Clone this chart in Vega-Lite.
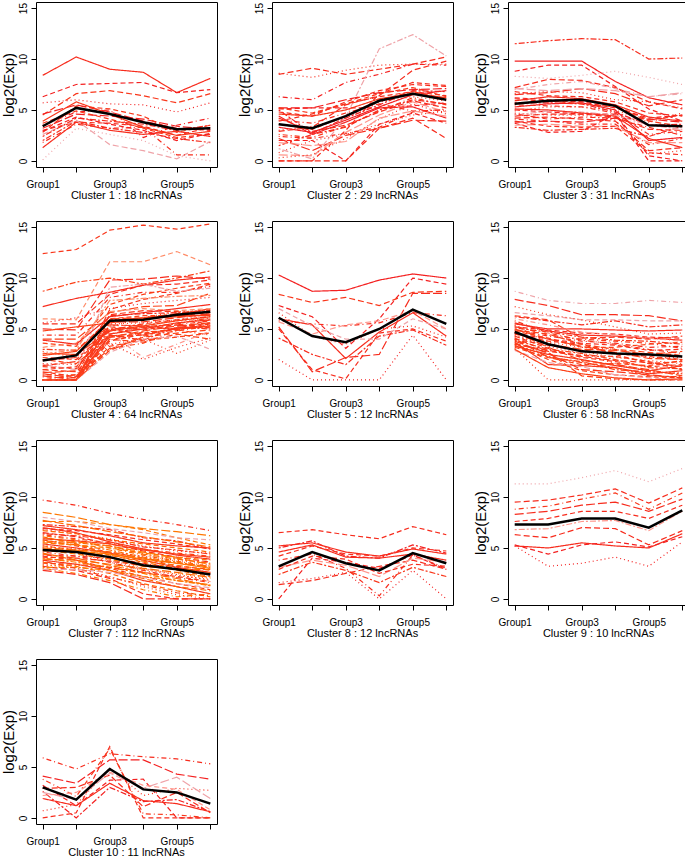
{
"$schema": "https://vega.github.io/schema/vega-lite/v6.json",
"padding": {"left": 0, "top": 1, "right": 0, "bottom": 0},
"background": "white",
"datasets": {
"clusters": [
{"c":1,"title":"Cluster 1 : 18 lncRNAs"},{"c":2,"title":"Cluster 2 : 29 lncRNAs"},{"c":3,"title":"Cluster 3 : 31 lncRNAs"},{"c":4,"title":"Cluster 4 : 64 lncRNAs"},{"c":5,"title":"Cluster 5 : 12 lncRNAs"},{"c":6,"title":"Cluster 6 : 58 lncRNAs"},{"c":7,"title":"Cluster 7 : 112 lncRNAs"},{"c":8,"title":"Cluster 8 : 12 lncRNAs"},{"c":9,"title":"Cluster 9 : 10 lncRNAs"},{"c":10,"title":"Cluster 10 : 11 lncRNAs"}
],
"profiles": [
{"c":1,"id":101,"m":0.85,"G1":8.4,"G2":10.2,"G3":9.0,"G4":8.7,"G5":6.7,"G6":8.1},
{"c":1,"id":102,"m":0.9,"G1":6.3,"G2":7.5,"G3":7.6,"G4":7.7,"G5":6.7,"G6":7.0},
{"c":1,"id":103,"m":0.9,"G1":5.7,"G2":6.0,"G3":5.6,"G4":5.5,"G5":4.8,"G6":5.7},
{"c":1,"id":104,"m":0.8,"G1":4.5,"G2":6.6,"G3":6.9,"G4":6.4,"G5":5.7,"G6":6.6},
{"c":1,"id":105,"m":0.95,"G1":3.5,"G2":4.8,"G3":5.0,"G4":2.3,"G5":3.5,"G6":4.2},
{"c":1,"id":106,"m":0.9,"G1":3.2,"G2":4.6,"G3":4.4,"G4":4.1,"G5":3.4,"G6":3.1},
{"c":1,"id":107,"m":0.85,"G1":3.0,"G2":3.8,"G3":3.7,"G4":3.4,"G5":2.5,"G6":3.3},
{"c":1,"id":108,"m":0.85,"G1":2.0,"G2":3.9,"G3":3.2,"G4":2.8,"G5":2.2,"G6":1.8},
{"c":1,"id":109,"m":0.85,"G1":1.3,"G2":3.8,"G3":3.0,"G4":2.6,"G5":2.9,"G6":2.4},
{"c":1,"id":110,"m":0.8,"G1":2.8,"G2":5.4,"G3":5.1,"G4":4.4,"G5":2.8,"G6":3.5},
{"c":1,"id":111,"m":0.3,"G1":0.1,"G2":3.2,"G3":2.6,"G4":2.0,"G5":0.5,"G6":0.0},
{"c":1,"id":112,"m":0.3,"G1":2.6,"G2":4.0,"G3":1.6,"G4":1.0,"G5":0.2,"G6":1.9},
{"c":1,"id":113,"m":0.85,"G1":1.8,"G2":3.6,"G3":3.2,"G4":3.3,"G5":0.6,"G6":0.6},
{"c":1,"id":114,"m":0.9,"G1":4.6,"G2":5.5,"G3":4.8,"G4":3.9,"G5":3.2,"G6":3.0},
{"c":1,"id":115,"m":0.8,"G1":3.7,"G2":4.9,"G3":4.1,"G4":3.2,"G5":2.3,"G6":2.6},
{"c":1,"id":116,"m":0.85,"G1":2.4,"G2":4.2,"G3":3.9,"G4":3.6,"G5":3.0,"G6":3.5},
{"c":1,"id":117,"m":0.8,"G1":3.9,"G2":5.8,"G3":4.6,"G4":3.3,"G5":2.5,"G6":2.9},
{"c":1,"id":118,"m":0.9,"G1":2.9,"G2":4.3,"G3":3.6,"G4":3.0,"G5":2.0,"G6":2.7},
{"c":2,"id":201,"m":0.85,"G1":8.6,"G2":8.2,"G3":8.9,"G4":9.4,"G5":9.5,"G6":9.5},
{"c":2,"id":202,"m":0.85,"G1":8.5,"G2":9.1,"G3":8.5,"G4":9.0,"G5":9.5,"G6":10.2},
{"c":2,"id":203,"m":0.9,"G1":6.3,"G2":6.0,"G3":7.7,"G4":8.5,"G5":9.5,"G6":9.4},
{"c":2,"id":204,"m":0.9,"G1":5.2,"G2":5.2,"G3":6.0,"G4":6.7,"G5":7.0,"G6":7.1},
{"c":2,"id":205,"m":0.9,"G1":5.1,"G2":5.2,"G3":5.2,"G4":5.2,"G5":5.4,"G6":5.7},
{"c":2,"id":206,"m":0.9,"G1":5.0,"G2":2.7,"G3":4.2,"G4":5.5,"G5":6.9,"G6":6.8},
{"c":2,"id":207,"m":0.9,"G1":4.4,"G2":2.6,"G3":3.8,"G4":5.2,"G5":5.3,"G6":4.2},
{"c":2,"id":208,"m":0.9,"G1":2.0,"G2":2.0,"G3":0.0,"G4":3.6,"G5":4.7,"G6":3.7},
{"c":2,"id":209,"m":0.85,"G1":0.8,"G2":2.0,"G3":2.6,"G4":3.6,"G5":4.5,"G6":4.9},
{"c":2,"id":210,"m":0.85,"G1":0.0,"G2":0.0,"G3":0.0,"G4":3.2,"G5":4.2,"G6":2.2},
{"c":2,"id":211,"m":0.85,"G1":2.4,"G2":2.2,"G3":2.7,"G4":3.3,"G5":4.8,"G6":5.1},
{"c":2,"id":212,"m":0.85,"G1":2.2,"G2":1.0,"G3":2.5,"G4":3.2,"G5":4.0,"G6":3.9},
{"c":2,"id":213,"m":0.85,"G1":0.0,"G2":0.0,"G3":3.0,"G4":6.6,"G5":7.7,"G6":7.4},
{"c":2,"id":214,"m":0.3,"G1":1.2,"G2":0.2,"G3":4.3,"G4":11.0,"G5":12.4,"G6":10.3},
{"c":2,"id":215,"m":0.8,"G1":4.6,"G2":4.4,"G3":5.0,"G4":6.1,"G5":6.6,"G6":6.2},
{"c":2,"id":216,"m":0.85,"G1":3.9,"G2":4.6,"G3":5.6,"G4":6.3,"G5":6.8,"G6":6.4},
{"c":2,"id":217,"m":0.85,"G1":3.0,"G2":3.4,"G3":4.2,"G4":5.8,"G5":6.3,"G6":5.9},
{"c":2,"id":218,"m":0.85,"G1":4.2,"G2":2.9,"G3":3.5,"G4":4.8,"G5":5.9,"G6":5.2},
{"c":2,"id":219,"m":0.8,"G1":2.6,"G2":2.3,"G3":3.4,"G4":4.9,"G5":6.2,"G6":5.5},
{"c":2,"id":220,"m":0.35,"G1":0.6,"G2":0.5,"G3":2.8,"G4":4.5,"G5":5.8,"G6":4.8},
{"c":2,"id":221,"m":0.8,"G1":5.2,"G2":4.7,"G3":5.6,"G4":6.6,"G5":7.2,"G6":6.3},
{"c":2,"id":222,"m":0.85,"G1":1.5,"G2":2.6,"G3":3.3,"G4":5.0,"G5":6.0,"G6":5.6},
{"c":2,"id":223,"m":0.9,"G1":3.3,"G2":2.8,"G3":4.0,"G4":5.3,"G5":6.5,"G6":6.9},
{"c":2,"id":224,"m":0.85,"G1":4.8,"G2":4.4,"G3":5.8,"G4":6.9,"G5":7.5,"G6":7.3},
{"c":2,"id":225,"m":0.85,"G1":0.3,"G2":0.6,"G3":2.2,"G4":4.1,"G5":5.6,"G6":4.6},
{"c":2,"id":226,"m":0.85,"G1":2.9,"G2":3.3,"G3":5.5,"G4":6.4,"G5":8.9,"G6":9.8},
{"c":2,"id":227,"m":0.85,"G1":4.0,"G2":3.7,"G3":4.7,"G4":5.6,"G5":4.9,"G6":5.0},
{"c":2,"id":228,"m":0.35,"G1":1.8,"G2":1.5,"G3":1.9,"G4":4.2,"G5":4.9,"G6":4.4},
{"c":2,"id":229,"m":0.8,"G1":3.6,"G2":3.1,"G3":4.4,"G4":6.0,"G5":6.8,"G6":6.1},
{"c":3,"id":301,"m":0.85,"G1":11.5,"G2":11.8,"G3":12.0,"G4":11.9,"G5":10.0,"G6":10.1},
{"c":3,"id":302,"m":0.9,"G1":9.8,"G2":9.8,"G3":9.8,"G4":7.8,"G5":6.2,"G6":5.5},
{"c":3,"id":303,"m":0.9,"G1":8.8,"G2":9.4,"G3":9.4,"G4":7.3,"G5":5.1,"G6":3.9},
{"c":3,"id":304,"m":0.3,"G1":8.3,"G2":8.1,"G3":8.4,"G4":8.8,"G5":8.2,"G6":7.5},
{"c":3,"id":305,"m":0.85,"G1":7.2,"G2":8.0,"G3":7.9,"G4":7.2,"G5":5.8,"G6":5.1},
{"c":3,"id":306,"m":0.3,"G1":7.0,"G2":7.5,"G3":7.8,"G4":7.1,"G5":6.3,"G6":6.6},
{"c":3,"id":307,"m":0.85,"G1":6.5,"G2":6.7,"G3":7.1,"G4":6.6,"G5":5.4,"G6":6.0},
{"c":3,"id":308,"m":0.9,"G1":6.2,"G2":6.0,"G3":5.8,"G4":5.2,"G5":4.2,"G6":4.5},
{"c":3,"id":309,"m":0.9,"G1":5.7,"G2":5.7,"G3":5.6,"G4":4.8,"G5":3.5,"G6":3.6},
{"c":3,"id":310,"m":0.9,"G1":5.3,"G2":5.6,"G3":5.7,"G4":5.0,"G5":2.0,"G6":2.3},
{"c":3,"id":311,"m":0.9,"G1":5.0,"G2":4.8,"G3":4.6,"G4":4.6,"G5":0.0,"G6":0.0},
{"c":3,"id":312,"m":0.85,"G1":4.7,"G2":4.5,"G3":4.5,"G4":4.0,"G5":0.7,"G6":1.0},
{"c":3,"id":313,"m":0.85,"G1":4.4,"G2":4.6,"G3":4.6,"G4":4.3,"G5":3.1,"G6":3.0},
{"c":3,"id":314,"m":0.85,"G1":4.1,"G2":3.9,"G3":3.6,"G4":3.6,"G5":1.6,"G6":2.2},
{"c":3,"id":315,"m":0.9,"G1":3.8,"G2":3.9,"G3":3.8,"G4":4.2,"G5":4.1,"G6":3.8},
{"c":3,"id":316,"m":0.9,"G1":3.7,"G2":2.8,"G3":2.9,"G4":4.6,"G5":0.5,"G6":0.0},
{"c":3,"id":317,"m":0.85,"G1":3.3,"G2":3.0,"G3":3.1,"G4":3.2,"G5":2.4,"G6":3.4},
{"c":3,"id":318,"m":0.85,"G1":5.9,"G2":6.3,"G3":6.1,"G4":5.5,"G5":4.3,"G6":3.9},
{"c":3,"id":319,"m":0.85,"G1":6.8,"G2":6.4,"G3":6.3,"G4":5.8,"G5":4.7,"G6":4.4},
{"c":3,"id":320,"m":0.8,"G1":4.9,"G2":5.3,"G3":5.3,"G4":5.0,"G5":3.8,"G6":4.7},
{"c":3,"id":321,"m":0.85,"G1":4.2,"G2":4.3,"G3":4.1,"G4":3.9,"G5":1.0,"G6":1.3},
{"c":3,"id":322,"m":0.85,"G1":5.5,"G2":5.4,"G3":5.3,"G4":4.7,"G5":2.6,"G6":2.9},
{"c":3,"id":323,"m":0.35,"G1":3.5,"G2":3.6,"G3":3.4,"G4":3.4,"G5":1.8,"G6":1.8},
{"c":3,"id":324,"m":0.85,"G1":6.1,"G2":5.8,"G3":5.9,"G4":5.4,"G5":4.0,"G6":4.5},
{"c":3,"id":325,"m":0.3,"G1":4.5,"G2":4.9,"G3":4.8,"G4":4.5,"G5":3.5,"G6":3.1},
{"c":3,"id":326,"m":0.85,"G1":5.1,"G2":5.0,"G3":4.7,"G4":4.4,"G5":2.2,"G6":1.3},
{"c":3,"id":327,"m":0.85,"G1":3.9,"G2":3.4,"G3":3.3,"G4":3.4,"G5":0.8,"G6":0.6},
{"c":3,"id":328,"m":0.85,"G1":6.6,"G2":6.8,"G3":6.7,"G4":6.0,"G5":5.8,"G6":5.2},
{"c":3,"id":329,"m":0.8,"G1":5.6,"G2":5.9,"G3":5.6,"G4":5.3,"G5":3.9,"G6":3.4},
{"c":3,"id":330,"m":0.85,"G1":4.6,"G2":4.1,"G3":4.3,"G4":4.2,"G5":3.3,"G6":2.5},
{"c":3,"id":331,"m":0.3,"G1":7.1,"G2":6.9,"G3":7.1,"G4":6.9,"G5":6.3,"G6":6.7},
{"c":4,"id":401,"m":0.8,"G1":12.4,"G2":12.8,"G3":14.7,"G4":15.2,"G5":14.8,"G6":15.3},
{"c":4,"id":402,"m":0.75,"G1":8.7,"G2":9.6,"G3":10.0,"G4":9.4,"G5":10.0,"G6":10.7},
{"c":4,"id":403,"m":0.85,"G1":7.2,"G2":8.0,"G3":8.6,"G4":9.3,"G5":9.8,"G6":10.1},
{"c":4,"id":404,"m":0.4,"G1":6.0,"G2":5.9,"G3":11.6,"G4":11.6,"G5":12.6,"G6":11.3},
{"c":4,"id":405,"m":0.9,"G1":5.6,"G2":6.1,"G3":7.0,"G4":7.5,"G5":7.8,"G6":8.1},
{"c":4,"id":406,"m":0.85,"G1":5.5,"G2":5.5,"G3":8.4,"G4":9.3,"G5":9.4,"G6":9.8},
{"c":4,"id":407,"m":0.85,"G1":4.4,"G2":4.4,"G3":8.1,"G4":8.6,"G5":8.6,"G6":9.2},
{"c":4,"id":408,"m":0.75,"G1":4.0,"G2":4.0,"G3":6.6,"G4":7.2,"G5":7.3,"G6":8.5},
{"c":4,"id":409,"m":0.75,"G1":3.6,"G2":3.3,"G3":7.4,"G4":8.4,"G5":9.0,"G6":9.5},
{"c":4,"id":410,"m":0.8,"G1":3.0,"G2":2.9,"G3":5.9,"G4":6.0,"G5":6.4,"G6":7.0},
{"c":4,"id":411,"m":0.75,"G1":2.6,"G2":2.5,"G3":4.8,"G4":5.3,"G5":5.8,"G6":6.2},
{"c":4,"id":412,"m":0.8,"G1":2.2,"G2":2.0,"G3":5.0,"G4":4.4,"G5":5.0,"G6":5.9},
{"c":4,"id":413,"m":0.85,"G1":1.6,"G2":1.5,"G3":3.6,"G4":2.0,"G5":3.2,"G6":4.1},
{"c":4,"id":414,"m":0.8,"G1":1.0,"G2":0.8,"G3":4.2,"G4":4.4,"G5":5.1,"G6":5.6},
{"c":4,"id":415,"m":0.75,"G1":0.5,"G2":0.5,"G3":3.0,"G4":4.3,"G5":4.8,"G6":5.3},
{"c":4,"id":416,"m":0.75,"G1":0.0,"G2":0.0,"G3":4.2,"G4":4.8,"G5":5.3,"G6":5.6},
{"c":4,"id":417,"m":0.8,"G1":0.0,"G2":0.0,"G3":3.8,"G4":4.5,"G5":5.1,"G6":5.3},
{"c":4,"id":418,"m":0.75,"G1":0.0,"G2":0.0,"G3":5.0,"G4":5.2,"G5":5.5,"G6":6.1},
{"c":4,"id":419,"m":0.8,"G1":0.0,"G2":0.0,"G3":4.5,"G4":5.0,"G5":5.6,"G6":5.9},
{"c":4,"id":420,"m":0.75,"G1":0.0,"G2":0.0,"G3":3.3,"G4":3.9,"G5":4.2,"G6":4.6},
{"c":4,"id":421,"m":0.8,"G1":0.0,"G2":0.0,"G3":5.5,"G4":5.6,"G5":5.9,"G6":6.5},
{"c":4,"id":422,"m":0.75,"G1":0.0,"G2":0.0,"G3":2.9,"G4":4.2,"G5":4.6,"G6":4.9},
{"c":4,"id":423,"m":0.8,"G1":0.3,"G2":0.2,"G3":4.8,"G4":5.1,"G5":5.4,"G6":5.8},
{"c":4,"id":424,"m":0.75,"G1":0.7,"G2":0.9,"G3":6.0,"G4":6.1,"G5":6.5,"G6":6.9},
{"c":4,"id":425,"m":0.8,"G1":1.3,"G2":1.1,"G3":5.2,"G4":4.9,"G5":5.4,"G6":5.1},
{"c":4,"id":426,"m":0.85,"G1":1.9,"G2":2.2,"G3":6.3,"G4":6.5,"G5":6.6,"G6":6.8},
{"c":4,"id":427,"m":0.75,"G1":2.4,"G2":2.8,"G3":5.8,"G4":6.1,"G5":6.3,"G6":6.3},
{"c":4,"id":428,"m":0.4,"G1":3.2,"G2":3.6,"G3":6.7,"G4":7.0,"G5":6.8,"G6":7.0},
{"c":4,"id":429,"m":0.8,"G1":0.0,"G2":0.0,"G3":3.5,"G4":4.0,"G5":2.6,"G6":3.9},
{"c":4,"id":430,"m":0.75,"G1":0.0,"G2":0.0,"G3":4.0,"G4":3.7,"G5":4.5,"G6":4.0},
{"c":4,"id":431,"m":0.35,"G1":0.0,"G2":0.0,"G3":4.6,"G4":2.2,"G5":3.5,"G6":4.8},
{"c":4,"id":432,"m":0.85,"G1":5.0,"G2":4.9,"G3":9.8,"G4":9.9,"G5":10.2,"G6":9.9},
{"c":4,"id":433,"m":0.8,"G1":0.8,"G2":0.3,"G3":6.9,"G4":7.9,"G5":8.5,"G6":9.4},
{"c":4,"id":434,"m":0.3,"G1":1.5,"G2":1.0,"G3":9.1,"G4":9.4,"G5":8.7,"G6":9.0},
{"c":4,"id":435,"m":0.75,"G1":4.8,"G2":5.2,"G3":5.6,"G4":6.0,"G5":6.2,"G6":6.4},
{"c":4,"id":436,"m":0.8,"G1":1.0,"G2":1.3,"G3":4.5,"G4":5.2,"G5":5.0,"G6":5.2},
{"c":4,"id":437,"m":0.75,"G1":2.8,"G2":2.2,"G3":5.3,"G4":5.4,"G5":5.8,"G6":6.0},
{"c":4,"id":438,"m":0.8,"G1":0.0,"G2":0.0,"G3":6.4,"G4":6.8,"G5":6.7,"G6":6.4},
{"c":4,"id":439,"m":0.75,"G1":0.0,"G2":0.5,"G3":3.9,"G4":4.7,"G5":4.9,"G6":4.4},
{"c":4,"id":440,"m":0.8,"G1":0.4,"G2":0.0,"G3":5.7,"G4":5.7,"G5":6.1,"G6":6.5},
{"c":4,"id":441,"m":0.75,"G1":2.0,"G2":1.6,"G3":4.3,"G4":4.6,"G5":5.0,"G6":5.3},
{"c":4,"id":442,"m":0.8,"G1":0.0,"G2":0.0,"G3":4.4,"G4":3.9,"G5":5.2,"G6":5.0},
{"c":4,"id":443,"m":0.85,"G1":3.9,"G2":3.5,"G3":6.2,"G4":6.6,"G5":7.0,"G6":7.4},
{"c":4,"id":444,"m":0.3,"G1":0.0,"G2":0.0,"G3":2.7,"G4":4.0,"G5":4.3,"G6":3.0},
{"c":4,"id":445,"m":0.75,"G1":0.0,"G2":0.0,"G3":5.2,"G4":6.1,"G5":6.7,"G6":6.8},
{"c":4,"id":446,"m":0.8,"G1":1.4,"G2":1.8,"G3":4.9,"G4":5.5,"G5":5.9,"G6":6.2},
{"c":4,"id":447,"m":0.75,"G1":0.0,"G2":0.0,"G3":3.1,"G4":3.6,"G5":4.9,"G6":5.4},
{"c":4,"id":448,"m":0.8,"G1":0.6,"G2":0.2,"G3":5.4,"G4":5.3,"G5":4.9,"G6":5.5},
{"c":4,"id":449,"m":0.75,"G1":0.0,"G2":0.0,"G3":6.0,"G4":6.3,"G5":6.3,"G6":6.6},
{"c":4,"id":450,"m":0.4,"G1":2.5,"G2":3.0,"G3":7.8,"G4":8.0,"G5":8.2,"G6":8.3},
{"c":5,"id":501,"m":0.9,"G1":10.3,"G2":8.7,"G3":8.8,"G4":9.8,"G5":10.4,"G6":10.0},
{"c":5,"id":502,"m":0.9,"G1":7.3,"G2":6.2,"G3":3.1,"G4":6.0,"G5":10.0,"G6":9.4},
{"c":5,"id":503,"m":0.9,"G1":2.0,"G2":0.0,"G3":0.0,"G4":0.0,"G5":4.4,"G6":0.0},
{"c":5,"id":504,"m":0.8,"G1":8.4,"G2":7.6,"G3":8.1,"G4":7.3,"G5":8.6,"G6":8.7},
{"c":5,"id":505,"m":0.85,"G1":5.8,"G2":5.5,"G3":5.3,"G4":5.6,"G5":6.6,"G6":6.3},
{"c":5,"id":506,"m":0.85,"G1":5.2,"G2":0.8,"G3":2.2,"G4":2.5,"G5":8.5,"G6":8.5},
{"c":5,"id":507,"m":0.85,"G1":5.0,"G2":1.0,"G3":0.1,"G4":4.6,"G5":5.0,"G6":3.8},
{"c":5,"id":508,"m":0.85,"G1":4.1,"G2":2.5,"G3":1.5,"G4":4.3,"G5":4.9,"G6":3.4},
{"c":5,"id":509,"m":0.85,"G1":6.0,"G2":5.4,"G3":2.1,"G4":4.7,"G5":6.6,"G6":4.3},
{"c":5,"id":510,"m":0.3,"G1":7.0,"G2":5.3,"G3":4.0,"G4":4.0,"G5":6.0,"G6":5.0},
{"c":5,"id":511,"m":0.85,"G1":6.6,"G2":4.3,"G3":3.5,"G4":5.0,"G5":5.3,"G6":4.2},
{"c":5,"id":512,"m":0.35,"G1":5.7,"G2":4.5,"G3":5.4,"G4":5.8,"G5":6.8,"G6":5.0},
{"c":6,"id":601,"m":0.3,"G1":8.7,"G2":7.8,"G3":7.5,"G4":7.5,"G5":7.8,"G6":7.6},
{"c":6,"id":602,"m":0.85,"G1":7.9,"G2":7.3,"G3":6.4,"G4":6.4,"G5":6.3,"G6":5.8},
{"c":6,"id":603,"m":0.3,"G1":6.6,"G2":6.3,"G3":5.9,"G4":5.9,"G5":5.8,"G6":5.8},
{"c":6,"id":604,"m":0.85,"G1":6.2,"G2":5.8,"G3":5.4,"G4":5.8,"G5":5.2,"G6":5.4},
{"c":6,"id":605,"m":0.85,"G1":5.5,"G2":5.0,"G3":5.0,"G4":4.9,"G5":4.8,"G6":4.9},
{"c":6,"id":606,"m":0.85,"G1":5.2,"G2":4.9,"G3":4.6,"G4":4.5,"G5":4.2,"G6":4.1},
{"c":6,"id":607,"m":0.8,"G1":7.2,"G2":6.4,"G3":5.9,"G4":5.2,"G5":4.5,"G6":4.6},
{"c":6,"id":608,"m":0.8,"G1":6.3,"G2":5.9,"G3":4.1,"G4":4.2,"G5":4.0,"G6":4.3},
{"c":6,"id":609,"m":0.85,"G1":4.9,"G2":4.3,"G3":3.8,"G4":3.6,"G5":3.2,"G6":3.3},
{"c":6,"id":610,"m":0.75,"G1":4.6,"G2":3.5,"G3":3.0,"G4":2.9,"G5":2.5,"G6":2.8},
{"c":6,"id":611,"m":0.8,"G1":4.3,"G2":3.1,"G3":2.2,"G4":1.8,"G5":1.3,"G6":1.5},
{"c":6,"id":612,"m":0.75,"G1":4.0,"G2":2.2,"G3":1.8,"G4":1.0,"G5":0.8,"G6":0.6},
{"c":6,"id":613,"m":0.8,"G1":3.7,"G2":1.5,"G3":1.4,"G4":1.2,"G5":0.6,"G6":0.9},
{"c":6,"id":614,"m":0.75,"G1":3.4,"G2":2.0,"G3":0.9,"G4":0.5,"G5":0.3,"G6":0.2},
{"c":6,"id":615,"m":0.8,"G1":3.1,"G2":0.0,"G3":0.0,"G4":0.0,"G5":0.0,"G6":0.0},
{"c":6,"id":616,"m":0.75,"G1":3.6,"G2":2.7,"G3":0.4,"G4":0.1,"G5":0.0,"G6":0.0},
{"c":6,"id":617,"m":0.8,"G1":5.8,"G2":4.6,"G3":3.9,"G4":3.5,"G5":3.0,"G6":2.6},
{"c":6,"id":618,"m":0.75,"G1":5.0,"G2":4.0,"G3":3.3,"G4":2.7,"G5":2.1,"G6":2.0},
{"c":6,"id":619,"m":0.8,"G1":4.5,"G2":3.8,"G3":3.5,"G4":2.5,"G5":1.6,"G6":1.8},
{"c":6,"id":620,"m":0.75,"G1":3.9,"G2":3.0,"G3":2.6,"G4":2.0,"G5":1.2,"G6":1.1},
{"c":6,"id":621,"m":0.8,"G1":3.3,"G2":2.5,"G3":2.0,"G4":1.4,"G5":0.9,"G6":1.4},
{"c":6,"id":622,"m":0.75,"G1":4.8,"G2":4.1,"G3":3.2,"G4":3.2,"G5":3.5,"G6":3.7},
{"c":6,"id":623,"m":0.8,"G1":4.2,"G2":3.7,"G3":3.2,"G4":3.0,"G5":2.2,"G6":2.2},
{"c":6,"id":624,"m":0.3,"G1":2.9,"G2":1.7,"G3":1.3,"G4":0.5,"G5":0.2,"G6":0.0},
{"c":6,"id":625,"m":0.8,"G1":5.3,"G2":4.4,"G3":4.0,"G4":3.8,"G5":3.6,"G6":3.1},
{"c":6,"id":626,"m":0.75,"G1":4.7,"G2":3.2,"G3":1.9,"G4":1.5,"G5":1.0,"G6":0.4},
{"c":6,"id":627,"m":0.8,"G1":4.1,"G2":2.8,"G3":2.4,"G4":2.3,"G5":1.8,"G6":1.0},
{"c":6,"id":628,"m":0.75,"G1":3.5,"G2":2.3,"G3":1.7,"G4":1.2,"G5":0.4,"G6":0.3},
{"c":6,"id":629,"m":0.85,"G1":5.6,"G2":4.8,"G3":4.4,"G4":4.3,"G5":4.1,"G6":3.9},
{"c":6,"id":630,"m":0.75,"G1":3.2,"G2":2.2,"G3":1.5,"G4":1.6,"G5":1.4,"G6":1.9},
{"c":6,"id":631,"m":0.8,"G1":4.4,"G2":3.3,"G3":2.6,"G4":1.6,"G5":0.8,"G6":0.7},
{"c":6,"id":632,"m":0.75,"G1":4.9,"G2":4.5,"G3":3.5,"G4":3.0,"G5":2.7,"G6":2.4},
{"c":6,"id":633,"m":0.35,"G1":6.0,"G2":5.4,"G3":4.7,"G4":4.4,"G5":4.1,"G6":3.8},
{"c":6,"id":634,"m":0.8,"G1":3.8,"G2":2.6,"G3":1.0,"G4":0.8,"G5":0.5,"G6":0.2},
{"c":6,"id":635,"m":0.85,"G1":4.6,"G2":4.0,"G3":3.6,"G4":3.4,"G5":2.9,"G6":3.0},
{"c":6,"id":636,"m":0.8,"G1":5.1,"G2":4.7,"G3":4.2,"G4":3.9,"G5":3.8,"G6":3.5},
{"c":6,"id":637,"m":0.75,"G1":3.0,"G2":1.2,"G3":0.6,"G4":0.2,"G5":0.0,"G6":0.1},
{"c":6,"id":638,"m":0.8,"G1":4.0,"G2":3.4,"G3":2.9,"G4":2.6,"G5":2.3,"G6":2.0},
{"c":6,"id":639,"m":0.75,"G1":5.4,"G2":3.6,"G3":2.8,"G4":2.2,"G5":1.9,"G6":1.6},
{"c":6,"id":640,"m":0.8,"G1":3.5,"G2":2.9,"G3":2.3,"G4":1.9,"G5":1.7,"G6":1.3},
{"c":7,"id":701,"m":0.85,"G1":9.7,"G2":9.2,"G3":8.4,"G4":7.8,"G5":7.3,"G6":6.7},
{"c":7,"id":702,"m":0.55,"G1":8.5,"G2":8.0,"G3":7.3,"G4":6.9,"G5":6.6,"G6":6.2},
{"c":7,"id":703,"m":0.55,"G1":7.6,"G2":7.6,"G3":7.3,"G4":6.8,"G5":6.0,"G6":5.3},
{"c":7,"id":704,"m":0.85,"G1":7.3,"G2":7.1,"G3":6.8,"G4":6.0,"G5":5.7,"G6":4.9},
{"c":7,"id":705,"m":0.8,"G1":7.2,"G2":6.8,"G3":6.2,"G4":5.5,"G5":5.2,"G6":5.0},
{"c":7,"id":706,"m":0.3,"G1":8.0,"G2":7.6,"G3":6.9,"G4":6.5,"G5":6.0,"G6":5.8},
{"c":7,"id":707,"m":0.75,"G1":6.8,"G2":6.4,"G3":5.9,"G4":5.2,"G5":4.7,"G6":4.5},
{"c":7,"id":708,"m":0.85,"G1":6.5,"G2":6.1,"G3":5.4,"G4":4.7,"G5":4.1,"G6":3.6},
{"c":7,"id":709,"m":0.6,"G1":6.2,"G2":5.8,"G3":5.0,"G4":4.3,"G5":3.7,"G6":3.2},
{"c":7,"id":710,"m":0.55,"G1":6.0,"G2":5.6,"G3":5.2,"G4":4.6,"G5":4.0,"G6":3.4},
{"c":7,"id":711,"m":0.75,"G1":5.8,"G2":5.2,"G3":4.6,"G4":4.0,"G5":3.2,"G6":2.9},
{"c":7,"id":712,"m":0.6,"G1":5.6,"G2":5.3,"G3":4.8,"G4":4.1,"G5":3.6,"G6":3.1},
{"c":7,"id":713,"m":0.8,"G1":5.4,"G2":5.0,"G3":4.5,"G4":3.8,"G5":3.1,"G6":2.6},
{"c":7,"id":714,"m":0.6,"G1":5.2,"G2":4.8,"G3":4.1,"G4":3.4,"G5":2.8,"G6":2.2},
{"c":7,"id":715,"m":0.75,"G1":5.0,"G2":4.5,"G3":3.8,"G4":3.0,"G5":2.4,"G6":1.8},
{"c":7,"id":716,"m":0.55,"G1":4.8,"G2":4.4,"G3":3.9,"G4":3.2,"G5":2.9,"G6":2.9},
{"c":7,"id":717,"m":0.8,"G1":4.6,"G2":4.2,"G3":3.6,"G4":2.8,"G5":2.1,"G6":1.6},
{"c":7,"id":718,"m":0.6,"G1":4.4,"G2":4.0,"G3":3.3,"G4":2.6,"G5":2.0,"G6":1.3},
{"c":7,"id":719,"m":0.75,"G1":4.2,"G2":3.8,"G3":3.0,"G4":2.2,"G5":1.5,"G6":0.9},
{"c":7,"id":720,"m":0.55,"G1":4.0,"G2":3.6,"G3":3.1,"G4":2.5,"G5":1.8,"G6":1.3},
{"c":7,"id":721,"m":0.8,"G1":3.8,"G2":3.4,"G3":2.8,"G4":1.8,"G5":1.2,"G6":0.5},
{"c":7,"id":722,"m":0.6,"G1":3.6,"G2":3.2,"G3":2.5,"G4":1.5,"G5":0.8,"G6":0.2},
{"c":7,"id":723,"m":0.75,"G1":3.4,"G2":3.0,"G3":2.2,"G4":1.2,"G5":0.4,"G6":0.0},
{"c":7,"id":724,"m":0.85,"G1":3.2,"G2":2.8,"G3":2.0,"G4":0.5,"G5":0.0,"G6":0.0},
{"c":7,"id":725,"m":0.55,"G1":3.0,"G2":2.5,"G3":1.8,"G4":0.9,"G5":0.2,"G6":0.5},
{"c":7,"id":726,"m":0.85,"G1":2.8,"G2":2.4,"G3":1.6,"G4":0.0,"G5":0.0,"G6":0.0},
{"c":7,"id":727,"m":0.6,"G1":6.7,"G2":6.4,"G3":5.8,"G4":5.4,"G5":5.0,"G6":4.6},
{"c":7,"id":728,"m":0.8,"G1":6.4,"G2":6.2,"G3":5.8,"G4":5.1,"G5":4.8,"G6":4.4},
{"c":7,"id":729,"m":0.75,"G1":5.9,"G2":5.7,"G3":5.4,"G4":4.8,"G5":4.4,"G6":4.1},
{"c":7,"id":730,"m":0.55,"G1":5.5,"G2":5.3,"G3":5.0,"G4":4.5,"G5":4.1,"G6":3.8},
{"c":7,"id":731,"m":0.8,"G1":5.1,"G2":4.9,"G3":4.6,"G4":4.2,"G5":3.8,"G6":3.3},
{"c":7,"id":732,"m":0.6,"G1":4.7,"G2":4.6,"G3":4.3,"G4":3.7,"G5":3.3,"G6":2.8},
{"c":7,"id":733,"m":0.85,"G1":4.3,"G2":4.2,"G3":4.0,"G4":3.5,"G5":3.0,"G6":2.6},
{"c":7,"id":734,"m":0.6,"G1":3.9,"G2":3.8,"G3":3.4,"G4":3.0,"G5":2.6,"G6":2.1},
{"c":7,"id":735,"m":0.75,"G1":3.5,"G2":3.4,"G3":3.1,"G4":2.6,"G5":2.2,"G6":1.7},
{"c":7,"id":736,"m":0.55,"G1":3.1,"G2":3.1,"G3":2.8,"G4":2.2,"G5":1.8,"G6":1.4},
{"c":7,"id":737,"m":0.8,"G1":7.0,"G2":6.5,"G3":5.6,"G4":4.9,"G5":4.3,"G6":3.9},
{"c":7,"id":738,"m":0.6,"G1":6.1,"G2":5.4,"G3":4.3,"G4":3.6,"G5":3.0,"G6":2.5},
{"c":7,"id":739,"m":0.8,"G1":5.3,"G2":4.6,"G3":3.6,"G4":2.9,"G5":2.3,"G6":1.9},
{"c":7,"id":740,"m":0.6,"G1":4.5,"G2":3.8,"G3":2.8,"G4":2.0,"G5":1.2,"G6":0.8},
{"c":7,"id":741,"m":0.75,"G1":3.7,"G2":3.0,"G3":2.1,"G4":1.4,"G5":0.6,"G6":0.3},
{"c":7,"id":742,"m":0.6,"G1":7.7,"G2":7.2,"G3":6.6,"G4":6.1,"G5":5.6,"G6":5.1},
{"c":7,"id":743,"m":0.85,"G1":6.9,"G2":6.7,"G3":6.3,"G4":5.8,"G5":5.4,"G6":4.9},
{"c":7,"id":744,"m":0.6,"G1":5.7,"G2":5.5,"G3":5.2,"G4":4.4,"G5":3.9,"G6":3.5},
{"c":7,"id":745,"m":0.55,"G1":4.9,"G2":4.7,"G3":4.4,"G4":3.9,"G5":3.5,"G6":3.0},
{"c":7,"id":746,"m":0.8,"G1":4.1,"G2":4.0,"G3":3.7,"G4":3.3,"G5":2.9,"G6":2.4},
{"c":7,"id":747,"m":0.6,"G1":3.3,"G2":3.3,"G3":3.2,"G4":2.9,"G5":2.5,"G6":2.0},
{"c":7,"id":748,"m":0.3,"G1":2.9,"G2":2.9,"G3":2.6,"G4":2.1,"G5":1.5,"G6":1.1},
{"c":7,"id":749,"m":0.75,"G1":6.3,"G2":5.9,"G3":5.5,"G4":4.9,"G5":4.5,"G6":4.2},
{"c":7,"id":750,"m":0.6,"G1":5.0,"G2":4.8,"G3":4.6,"G4":4.0,"G5":3.5,"G6":3.2},
{"c":8,"id":801,"m":0.85,"G1":6.5,"G2":6.8,"G3":6.3,"G4":5.9,"G5":7.1,"G6":6.3},
{"c":8,"id":802,"m":0.9,"G1":5.0,"G2":5.7,"G3":4.2,"G4":4.0,"G5":5.3,"G6":4.5},
{"c":8,"id":803,"m":0.85,"G1":4.6,"G2":5.3,"G3":4.1,"G4":4.0,"G5":4.4,"G6":3.8},
{"c":8,"id":804,"m":0.9,"G1":0.0,"G2":4.0,"G3":3.6,"G4":3.0,"G5":4.3,"G6":2.9},
{"c":8,"id":805,"m":0.9,"G1":1.6,"G2":2.0,"G3":2.6,"G4":0.0,"G5":2.8,"G6":0.0},
{"c":8,"id":806,"m":0.85,"G1":1.4,"G2":1.8,"G3":2.5,"G4":3.2,"G5":3.8,"G6":2.9},
{"c":8,"id":807,"m":0.85,"G1":3.8,"G2":4.4,"G3":3.0,"G4":0.3,"G5":4.3,"G6":3.0},
{"c":8,"id":808,"m":0.35,"G1":3.1,"G2":3.8,"G3":3.3,"G4":2.2,"G5":4.0,"G6":3.6},
{"c":8,"id":809,"m":0.85,"G1":4.2,"G2":5.2,"G3":4.4,"G4":4.2,"G5":5.0,"G6":4.7},
{"c":8,"id":810,"m":0.8,"G1":2.4,"G2":3.6,"G3":2.8,"G4":1.6,"G5":3.1,"G6":2.2},
{"c":8,"id":811,"m":0.85,"G1":5.2,"G2":5.5,"G3":4.6,"G4":4.2,"G5":4.9,"G6":4.4},
{"c":8,"id":812,"m":0.85,"G1":2.9,"G2":4.2,"G3":3.9,"G4":2.5,"G5":3.4,"G6":3.2},
{"c":9,"id":901,"m":0.3,"G1":11.3,"G2":11.3,"G3":11.9,"G4":12.6,"G5":11.5,"G6":12.8},
{"c":9,"id":902,"m":0.85,"G1":9.5,"G2":9.7,"G3":10.2,"G4":10.8,"G5":9.4,"G6":10.9},
{"c":9,"id":903,"m":0.8,"G1":8.8,"G2":9.1,"G3":9.8,"G4":10.4,"G5":8.8,"G6":10.4},
{"c":9,"id":904,"m":0.85,"G1":8.3,"G2":8.6,"G3":9.2,"G4":9.5,"G5":8.6,"G6":9.8},
{"c":9,"id":905,"m":0.85,"G1":7.6,"G2":7.9,"G3":8.6,"G4":8.6,"G5":7.9,"G6":9.2},
{"c":9,"id":906,"m":0.35,"G1":6.8,"G2":6.9,"G3":7.6,"G4":7.7,"G5":6.7,"G6":8.6},
{"c":9,"id":907,"m":0.85,"G1":5.2,"G2":5.0,"G3":5.5,"G4":5.2,"G5":5.0,"G6":6.4},
{"c":9,"id":908,"m":0.9,"G1":5.3,"G2":4.4,"G3":5.3,"G4":5.6,"G5":5.1,"G6":6.1},
{"c":9,"id":909,"m":0.9,"G1":5.2,"G2":3.2,"G3":3.5,"G4":4.1,"G5":3.2,"G6":5.6},
{"c":9,"id":910,"m":0.85,"G1":6.3,"G2":6.0,"G3":7.0,"G4":6.9,"G5":5.3,"G6":6.7},
{"c":10,"id":1001,"m":0.85,"G1":5.9,"G2":4.8,"G3":6.3,"G4":6.0,"G5":5.8,"G6":5.3},
{"c":10,"id":1002,"m":0.9,"G1":4.1,"G2":3.4,"G3":5.7,"G4":5.7,"G5":4.3,"G6":3.8},
{"c":10,"id":1003,"m":0.9,"G1":3.2,"G2":1.2,"G3":3.7,"G4":3.8,"G5":0.0,"G6":0.0},
{"c":10,"id":1004,"m":0.9,"G1":2.6,"G2":0.0,"G3":3.0,"G4":1.6,"G5":1.8,"G6":0.6},
{"c":10,"id":1005,"m":0.85,"G1":1.9,"G2":1.2,"G3":3.4,"G4":1.7,"G5":1.4,"G6":0.6},
{"c":10,"id":1006,"m":0.85,"G1":0.0,"G2":0.5,"G3":7.0,"G4":0.0,"G5":0.0,"G6":0.0},
{"c":10,"id":1007,"m":0.85,"G1":0.7,"G2":1.3,"G3":4.9,"G4":2.2,"G5":2.9,"G6":2.7},
{"c":10,"id":1008,"m":0.85,"G1":2.9,"G2":3.0,"G3":4.2,"G4":1.1,"G5":2.5,"G6":0.5},
{"c":10,"id":1009,"m":0.8,"G1":3.8,"G2":2.1,"G3":6.8,"G4":0.4,"G5":0.3,"G6":0.0},
{"c":10,"id":1010,"m":0.3,"G1":2.5,"G2":1.8,"G3":4.4,"G4":2.9,"G5":4.0,"G6":1.9},
{"c":10,"id":1011,"m":0.35,"G1":2.2,"G2":2.5,"G3":4.5,"G4":3.2,"G5":2.8,"G6":0.8},
{"c":1,"k":"mean","G1":3.4,"G2":5.2,"G3":4.6,"G4":3.8,"G5":3.1,"G6":3.2},
{"c":2,"k":"mean","G1":3.6,"G2":3.2,"G3":4.4,"G4":5.9,"G5":6.6,"G6":6.0},
{"c":3,"k":"mean","G1":5.6,"G2":5.9,"G3":6.0,"G4":5.4,"G5":3.5,"G6":3.4},
{"c":4,"k":"mean","G1":1.9,"G2":2.4,"G3":5.8,"G4":5.9,"G5":6.4,"G6":6.7},
{"c":5,"k":"mean","G1":6.1,"G2":4.3,"G3":3.7,"G4":5.0,"G5":6.9,"G6":5.5},
{"c":6,"k":"mean","G1":4.7,"G2":3.5,"G3":2.8,"G4":2.6,"G5":2.5,"G6":2.3},
{"c":7,"k":"mean","G1":4.8,"G2":4.6,"G3":4.1,"G4":3.3,"G5":2.9,"G6":2.4},
{"c":8,"k":"mean","G1":3.2,"G2":4.6,"G3":3.5,"G4":2.8,"G5":4.5,"G6":3.5},
{"c":9,"k":"mean","G1":7.3,"G2":7.3,"G3":7.9,"G4":7.9,"G5":7.0,"G6":8.7},
{"c":10,"k":"mean","G1":3.0,"G2":1.8,"G3":4.8,"G4":2.8,"G5":2.5,"G6":1.4}
]
},
"data": {"name": "profiles"},
"transform": [
{"lookup": "c", "from": {"data": {"name": "clusters"}, "key": "c", "fields": ["title"]}},
{"fold": ["G1","G2","G3","G4","G5","G6"], "as": ["grp","val"]}
],
"facet": {"field": "title", "type": "nominal", "sort": {"field": "c", "op": "min", "order": "ascending"},
  "header": {"title": null, "labelOrient": "bottom", "labelFontSize": 11, "labelPadding": 1, "labelFont": "Liberation Sans", "labelColor": "black"}},
"columns": 3,
"spacing": {"row": 18, "column": 18},
"spec": {
  "width": 181, "height": 165,
  "encoding": {
    "x": {"field": "grp", "type": "ordinal", "scale": {"type": "point", "padding": 0.2},
      "axis": {"title": null, "domain": false, "grid": false, "tickSize": 5, "tickColor": "black", "labelAngle": 0, "labelFontSize": 10, "labelColor": "black", "labelPadding": 7, "labelOverlap": false,
        "labelExpr": "indexof(['G1','G3','G5'], datum.value) >= 0 ? 'Group' + substring(datum.value, 1) : ''"}},
    "y": {"field": "val", "type": "quantitative", "scale": {"domain": [-0.6, 15.6], "nice": false, "zero": false},
      "axis": {"title": "log2(Exp)", "values": [0, 5, 10, 15], "domain": false, "grid": false, "tickSize": 5, "tickColor": "black", "labelAngle": -90, "labelFontSize": 10, "labelColor": "black", "labelPadding": 3, "minExtent": 18, "maxExtent": 18, "titleFontSize": 15, "titleFontWeight": "normal", "titleColor": "black", "titlePadding": 2}}
  },
  "layer": [
    {"transform": [{"filter": "datum.k != 'mean'"}],
     "mark": {"type": "line", "strokeWidth": 1.2, "clip": true},
     "encoding": {
       "color": {"field": "m", "type": "quantitative", "scale": {"domain": [0.3, 0.48, 0.68, 0.9], "range": ["#EFA3A8", "#FF8A00", "#FF4A10", "#F42020"], "clamp": true}, "legend": null},
       "strokeDash": {"field": "id", "type": "nominal", "scale": {"range": [[1,0],[5,3],[1,3],[6,3],[1,3,5,3],[9,3],[5,3],[2,2,6,2]]}, "legend": null}
     }},
    {"transform": [{"filter": "datum.k == 'mean'"}],
     "mark": {"type": "line", "color": "black", "strokeWidth": 2.5},
     "encoding": {}}
  ]
},
"resolve": {"axis": {"x": "independent", "y": "independent"}},
"config": {"view": {"stroke": "black", "strokeWidth": 1}, "font": "Liberation Sans"}
}
